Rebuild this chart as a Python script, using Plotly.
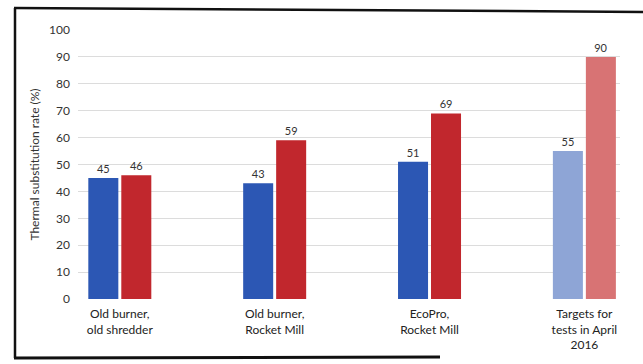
import plotly.graph_objects as go

categories = ["Old burner,<br>old shredder", "Old burner,<br>Rocket Mill",
              "EcoPro,<br>Rocket Mill", "Targets for<br>tests in April<br>2016"]
series_a = [45, 43, 51, 55]
series_b = [46, 59, 69, 90]
y_ticks = [0, 10, 20, 30, 40, 50, 60, 70, 80, 90, 100]

blue_colors = ["#2c57b4", "#2c57b4", "#2c57b4", "#8ea5d6"]
red_colors = ["#c1272d", "#c1272d", "#c1272d", "#d87374"]

font_family = "Lato, 'Open Sans', sans-serif"

fig = go.Figure()
fig.add_trace(go.Bar(x=categories, y=series_a, marker_color=blue_colors,
                     text=series_a, textposition="outside", cliponaxis=False,
                     textfont=dict(size=11, color="#333333"), marker_line_width=0))
fig.add_trace(go.Bar(x=categories, y=series_b, marker_color=red_colors,
                     text=series_b, textposition="outside", cliponaxis=False,
                     textfont=dict(size=11, color="#333333"), marker_line_width=0))

L, R, T, B = 78, 23, 30, 65
W, H = 643, 364
pw = W - L - R
ph = H - T - B

def px(x):
    return (x - L) / pw

def py(y):
    return (H - B - y) / ph

frame = dict(color="#111111", width=2.5)
shapes = [
    dict(type="line", xref="paper", yref="paper", x0=px(14), x1=px(650), y0=py(8), y1=py(12), line=frame),
    dict(type="line", xref="paper", yref="paper", x0=px(15), x1=px(15), y0=py(8), y1=py(358), line=frame),
    dict(type="line", xref="paper", yref="paper", x0=px(14), x1=px(440), y0=py(358), y1=py(357),
         line=dict(color="#111111", width=3)),
]

fig.update_layout(
    width=W, height=H,
    margin=dict(l=L, r=R, t=T, b=B),
    paper_bgcolor="white", plot_bgcolor="white",
    barmode="group", bargap=0.574, bargroupgap=0.09,
    showlegend=False,
    font=dict(family=font_family, size=11, color="#333333"),
    shapes=shapes,
    xaxis=dict(range=[-0.27, 3.23], showgrid=False, zeroline=False, showline=False,
               tickfont=dict(size=12, color="#222222"), ticks="", ticklabelstandoff=6),
    yaxis=dict(range=[0, 100], tickvals=y_ticks, showgrid=True, gridcolor="#dcdcdc",
               gridwidth=1, zeroline=False, showline=False,
               tickfont=dict(size=12, color="#333333"), ticklabelstandoff=7,
               title=dict(text="Thermal substitution rate (%)", font=dict(size=12, color="#333333"),
                          standoff=6)),
)

fig.write_html("out.html")
